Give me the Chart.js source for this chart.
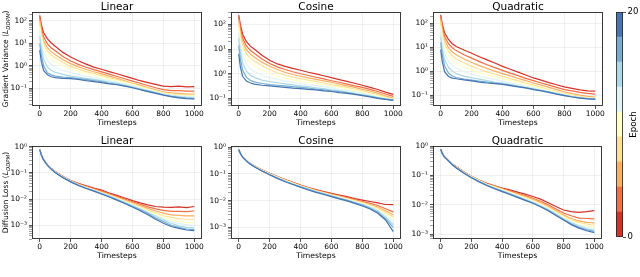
<!DOCTYPE html>
<html><head><meta charset="utf-8">
<script src="https://cdn.jsdelivr.net/npm/chart.js@4"></script>
<style>
html,body{margin:0;padding:0;background:#fff;}
body{width:640px;height:277px;overflow:hidden;position:relative;font-family:"DejaVu Sans",sans-serif;}
canvas{position:absolute;}
</style></head>
<body>
<canvas id="p0"></canvas><canvas id="p1"></canvas><canvas id="p2"></canvas>
<canvas id="p3"></canvas><canvas id="p4"></canvas><canvas id="p5"></canvas>
<canvas id="cbar"></canvas>
<script>
// ---------- data ----------
const timesteps = [0,10,25,50,75,100,150,200,250,300,350,400,450,500,550,600,650,700,750,800,850,900,950,1000];
const epochColors = ['#d73027','#f46d43','#fdae61','#fee090','#ffffbf','#e0f3f8','#abd9e9','#74add1','#4575b4'];
const epochBounds = [0,2.22,4.44,6.67,8.89,11.11,13.33,15.56,17.78,20];
const colorbarTicks = [0,20];
const schedules = ['Linear','Cosine','Quadratic'];
const xTicks = [0,200,400,600,800,1000];

const gradVarLinear = [
 [178,71,30,16,10.5,7.5,4.0,2.5,1.7,1.2,0.89,0.71,0.56,0.45,0.35,0.28,0.22,0.18,0.15,0.126,0.12,0.126,0.117,0.12],
 [141,50,20,9.5,6.3,4.7,2.6,1.66,1.17,0.87,0.68,0.54,0.43,0.34,0.27,0.21,0.17,0.135,0.107,0.089,0.079,0.08,0.076,0.076],
 [112,35,13,6.3,4.2,3.2,1.9,1.26,0.91,0.69,0.55,0.44,0.35,0.28,0.22,0.17,0.14,0.11,0.087,0.071,0.063,0.06,0.056,0.056],
 [79,25,9.5,4.5,3.0,2.3,1.41,0.95,0.72,0.56,0.46,0.37,0.3,0.25,0.2,0.16,0.126,0.1,0.079,0.063,0.056,0.054,0.05,0.05],
 [56,18,6.6,3.0,2.0,1.5,1.0,0.72,0.56,0.46,0.38,0.32,0.26,0.22,0.18,0.15,0.117,0.093,0.074,0.06,0.052,0.05,0.047,0.047],
 [35,11,4.0,1.78,1.15,0.89,0.63,0.5,0.42,0.35,0.3,0.26,0.22,0.19,0.16,0.13,0.107,0.087,0.071,0.058,0.05,0.047,0.044,0.043],
 [20,6.3,2.0,0.89,0.63,0.52,0.42,0.35,0.32,0.28,0.25,0.22,0.19,0.166,0.14,0.117,0.095,0.079,0.066,0.054,0.047,0.043,0.04,0.038],
 [10,3.2,1.0,0.5,0.4,0.35,0.32,0.3,0.27,0.25,0.22,0.2,0.17,0.15,0.13,0.11,0.091,0.076,0.063,0.051,0.044,0.04,0.037,0.035],
 [5.0,1.58,0.63,0.4,0.33,0.3,0.28,0.27,0.25,0.22,0.2,0.18,0.16,0.145,0.126,0.107,0.087,0.072,0.06,0.05,0.043,0.038,0.035,0.034]
];
const gradVarCosine = [
 [240,100,40,20,13.2,10,5.6,3.5,2.5,2.0,1.66,1.38,1.15,0.98,0.83,0.69,0.58,0.49,0.41,0.34,0.28,0.23,0.18,0.145],
 [200,71,28,13.2,8.9,6.8,4.0,2.6,1.9,1.48,1.2,1.0,0.85,0.72,0.62,0.52,0.45,0.38,0.32,0.28,0.23,0.19,0.15,0.12],
 [158,50,20,9.3,6.3,4.8,2.95,2.0,1.48,1.15,0.93,0.79,0.68,0.59,0.51,0.45,0.38,0.32,0.28,0.23,0.2,0.16,0.126,0.1],
 [112,35,13.5,6.3,4.3,3.3,2.1,1.45,1.1,0.87,0.72,0.63,0.55,0.48,0.42,0.36,0.32,0.28,0.24,0.2,0.17,0.14,0.112,0.093],
 [79,24,8.9,4.0,2.75,2.1,1.38,1.0,0.79,0.66,0.56,0.5,0.45,0.4,0.35,0.32,0.28,0.24,0.21,0.18,0.15,0.126,0.105,0.089],
 [50,15,5.4,2.4,1.58,1.26,0.87,0.69,0.59,0.5,0.45,0.4,0.36,0.33,0.3,0.26,0.23,0.21,0.19,0.16,0.135,0.115,0.1,0.087],
 [28,8.3,2.8,1.26,0.87,0.71,0.55,0.48,0.43,0.39,0.35,0.32,0.3,0.27,0.25,0.22,0.2,0.18,0.16,0.14,0.123,0.107,0.095,0.085],
 [14,4.2,1.4,0.71,0.54,0.47,0.4,0.36,0.34,0.32,0.3,0.28,0.26,0.24,0.22,0.2,0.19,0.17,0.15,0.135,0.12,0.105,0.093,0.085],
 [6.3,2.0,0.79,0.5,0.42,0.38,0.34,0.32,0.3,0.28,0.26,0.25,0.23,0.22,0.2,0.19,0.17,0.16,0.145,0.13,0.115,0.1,0.091,0.083]
];
const gradVarQuadratic = [
 [224,89,40,21,14,10.7,7.6,5.6,4.0,2.95,2.2,1.58,1.2,0.91,0.69,0.52,0.42,0.33,0.27,0.22,0.19,0.166,0.15,0.145],
 [190,71,28,14,9.5,7.2,4.8,3.5,2.5,1.86,1.41,1.07,0.83,0.65,0.5,0.4,0.32,0.26,0.21,0.17,0.15,0.13,0.117,0.11],
 [150,50,20,9.5,6.3,4.8,3.2,2.3,1.7,1.29,1.0,0.79,0.63,0.5,0.4,0.32,0.26,0.21,0.17,0.138,0.115,0.1,0.089,0.083],
 [112,35,13.8,6.6,4.4,3.3,2.2,1.58,1.2,0.93,0.74,0.6,0.49,0.4,0.32,0.26,0.21,0.17,0.14,0.117,0.1,0.089,0.079,0.076],
 [79,24,8.9,4.3,2.8,2.1,1.48,1.1,0.85,0.69,0.58,0.48,0.4,0.33,0.28,0.23,0.19,0.16,0.13,0.11,0.093,0.083,0.076,0.072],
 [50,15,5.5,2.6,1.74,1.35,0.95,0.74,0.62,0.52,0.45,0.38,0.32,0.28,0.23,0.2,0.17,0.145,0.123,0.105,0.089,0.079,0.074,0.071],
 [28,8.3,3.0,1.45,1.0,0.79,0.62,0.52,0.46,0.4,0.35,0.32,0.28,0.24,0.21,0.18,0.158,0.135,0.115,0.1,0.087,0.078,0.072,0.069],
 [16,4.8,1.66,0.83,0.63,0.54,0.47,0.42,0.38,0.35,0.32,0.29,0.26,0.23,0.2,0.18,0.155,0.132,0.112,0.098,0.085,0.076,0.071,0.068],
 [7.9,2.5,0.95,0.6,0.51,0.48,0.43,0.39,0.35,0.32,0.3,0.28,0.25,0.22,0.2,0.17,0.15,0.13,0.11,0.095,0.083,0.074,0.069,0.066]
];
const lossLinear = [
 [0.76,0.5,0.32,0.2,0.145,0.112,0.072,0.051,0.04,0.032,0.026,0.022,0.017,0.0138,0.011,0.0087,0.0071,0.006,0.0052,0.0049,0.0048,0.005,0.0047,0.0052],
 [0.76,0.5,0.32,0.2,0.145,0.11,0.071,0.05,0.038,0.03,0.0245,0.02,0.0158,0.0126,0.01,0.0079,0.0063,0.005,0.0042,0.0037,0.0034,0.0034,0.0033,0.0035],
 [0.76,0.5,0.32,0.2,0.141,0.11,0.069,0.049,0.037,0.029,0.0234,0.0186,0.0148,0.0117,0.0091,0.0072,0.0056,0.0044,0.0035,0.0029,0.0025,0.0024,0.0023,0.0023],
 [0.76,0.5,0.32,0.2,0.141,0.107,0.069,0.048,0.036,0.028,0.0224,0.0178,0.0141,0.011,0.0085,0.0066,0.005,0.0038,0.003,0.0023,0.002,0.0018,0.0017,0.0017],
 [0.76,0.5,0.32,0.2,0.141,0.107,0.068,0.047,0.035,0.0275,0.0219,0.0174,0.0135,0.0105,0.0081,0.0062,0.0047,0.0035,0.0026,0.002,0.0016,0.0014,0.00126,0.00126],
 [0.76,0.5,0.32,0.195,0.138,0.105,0.068,0.047,0.0347,0.0269,0.0214,0.017,0.0132,0.0102,0.0078,0.0059,0.0044,0.0032,0.0024,0.0018,0.0014,0.00115,0.00105,0.001],
 [0.76,0.49,0.31,0.195,0.138,0.105,0.066,0.046,0.034,0.0263,0.0209,0.0166,0.0129,0.0098,0.0074,0.0056,0.0042,0.003,0.0022,0.0016,0.0012,0.00095,0.00083,0.00079],
 [0.76,0.49,0.31,0.195,0.138,0.102,0.066,0.046,0.034,0.0257,0.0204,0.0158,0.0123,0.0093,0.0071,0.0052,0.0039,0.0028,0.0019,0.0014,0.001,0.00083,0.00072,0.00068],
 [0.76,0.49,0.31,0.19,0.135,0.102,0.065,0.045,0.033,0.0251,0.02,0.0155,0.012,0.0091,0.0068,0.005,0.0036,0.0025,0.0017,0.0012,0.0009,0.00076,0.00066,0.00063]
];
const lossCosine = [
 [0.81,0.6,0.43,0.32,0.245,0.2,0.141,0.105,0.079,0.062,0.048,0.038,0.031,0.0257,0.0219,0.0186,0.0162,0.0141,0.012,0.0105,0.0093,0.0083,0.0072,0.0071],
 [0.81,0.6,0.43,0.32,0.245,0.2,0.138,0.102,0.078,0.06,0.047,0.037,0.03,0.0251,0.0209,0.0178,0.0151,0.0129,0.011,0.0093,0.0079,0.0066,0.005,0.0038],
 [0.81,0.6,0.43,0.32,0.245,0.2,0.138,0.1,0.076,0.059,0.046,0.036,0.0295,0.024,0.02,0.017,0.0145,0.0123,0.0105,0.0087,0.0072,0.0058,0.0042,0.003],
 [0.81,0.6,0.43,0.32,0.24,0.195,0.135,0.1,0.076,0.058,0.045,0.035,0.0288,0.0234,0.0195,0.0166,0.0141,0.012,0.01,0.0083,0.0068,0.0052,0.0036,0.0025],
 [0.81,0.6,0.43,0.31,0.24,0.195,0.135,0.098,0.074,0.056,0.044,0.035,0.0282,0.0229,0.019,0.0158,0.0135,0.0115,0.0095,0.0079,0.0063,0.0048,0.0032,0.002],
 [0.81,0.6,0.43,0.31,0.24,0.195,0.132,0.098,0.072,0.055,0.043,0.034,0.0275,0.0224,0.0186,0.0155,0.0132,0.011,0.0091,0.0074,0.0059,0.0044,0.0028,0.0016],
 [0.81,0.59,0.42,0.31,0.234,0.19,0.132,0.095,0.071,0.054,0.042,0.033,0.0269,0.0219,0.0182,0.0151,0.0126,0.0105,0.0087,0.0071,0.0055,0.004,0.0024,0.00126],
 [0.81,0.59,0.42,0.3,0.234,0.19,0.129,0.093,0.069,0.052,0.041,0.032,0.0263,0.0214,0.0178,0.0148,0.0123,0.0102,0.0083,0.0068,0.0052,0.0037,0.0021,0.001],
 [0.81,0.59,0.42,0.3,0.229,0.186,0.129,0.093,0.068,0.051,0.04,0.032,0.0251,0.0204,0.017,0.0141,0.0117,0.0098,0.0079,0.0063,0.0049,0.0034,0.0019,0.0007]
];
const lossQuadratic = [
 [0.78,0.58,0.43,0.33,0.25,0.2,0.132,0.093,0.069,0.054,0.044,0.037,0.032,0.0269,0.0229,0.019,0.0155,0.0117,0.0087,0.0066,0.0058,0.0055,0.0058,0.0063],
 [0.78,0.58,0.43,0.33,0.25,0.195,0.129,0.091,0.068,0.052,0.043,0.035,0.0295,0.0245,0.0204,0.0166,0.0132,0.01,0.0072,0.0052,0.0042,0.0035,0.0034,0.0033],
 [0.78,0.58,0.43,0.32,0.245,0.195,0.129,0.091,0.068,0.051,0.042,0.035,0.0282,0.0234,0.0191,0.0155,0.012,0.0089,0.0063,0.0045,0.0034,0.0028,0.0025,0.0024],
 [0.78,0.58,0.43,0.32,0.245,0.19,0.126,0.089,0.066,0.05,0.041,0.033,0.0269,0.0219,0.0178,0.0141,0.011,0.0081,0.0058,0.0041,0.0031,0.0025,0.0022,0.002],
 [0.78,0.58,0.42,0.32,0.24,0.19,0.126,0.089,0.065,0.049,0.039,0.032,0.0257,0.0209,0.0166,0.0132,0.0102,0.0076,0.0054,0.0038,0.0028,0.0022,0.0019,0.0017],
 [0.78,0.58,0.42,0.32,0.24,0.186,0.123,0.087,0.063,0.048,0.038,0.031,0.0251,0.02,0.0158,0.0126,0.0098,0.0072,0.0051,0.0035,0.0026,0.002,0.0017,0.0015],
 [0.78,0.56,0.42,0.32,0.234,0.186,0.123,0.085,0.062,0.047,0.037,0.03,0.024,0.019,0.0151,0.012,0.0091,0.0068,0.0048,0.0033,0.0024,0.0019,0.0015,0.00135],
 [0.78,0.56,0.42,0.31,0.234,0.182,0.12,0.085,0.062,0.046,0.036,0.029,0.0229,0.0182,0.0145,0.0115,0.0087,0.0065,0.0045,0.0031,0.0022,0.0017,0.0014,0.00123],
 [0.78,0.56,0.42,0.31,0.229,0.182,0.12,0.083,0.06,0.045,0.035,0.028,0.0224,0.0178,0.0141,0.0112,0.0085,0.0062,0.0043,0.003,0.0021,0.0016,0.0013,0.00112]
];

// ---------- layout ----------
const panels = [
 {id:'p0', series:gradVarLinear,    title:schedules[0], L:32,  R:202, T:12,  B:106, ymin:0.0165, ymax:250, ytitle:'Gradient Variance ('},
 {id:'p1', series:gradVarCosine,    title:schedules[1], L:231, R:401, T:12,  B:106, ymin:0.049,  ymax:320},
 {id:'p2', series:gradVarQuadratic, title:schedules[2], L:433, R:603, T:12,  B:106, ymin:0.035,  ymax:295},
 {id:'p3', series:lossLinear,       title:schedules[0], L:32,  R:202, T:146, B:239, ymin:0.0003, ymax:1.05, ytitle:'Diffusion Loss ('},
 {id:'p4', series:lossCosine,       title:schedules[1], L:231, R:401, T:146, B:239, ymin:0.00037,ymax:1.1},
 {id:'p5', series:lossQuadratic,    title:schedules[2], L:433, R:602, T:146, B:239, ymin:0.00068,ymax:1.0}
];
const YW = 32, PT = 12, PR = 4, XH = 22;
const TICKFONT = {family:'DejaVu Sans', size:7.5};
const SUP = {'-':'\u207B','0':'\u2070','1':'\u00B9','2':'\u00B2','3':'\u00B3','4':'\u2074','5':'\u2075'};
const isPow10 = v => Math.abs(Math.log10(v) - Math.round(Math.log10(v))) < 1e-6;
const powLabel = v => '10' + String(Math.round(Math.log10(v))).split('').map(c => SUP[c]).join('');

function logTicks(scale){
  const out = [];
  const lo = Math.floor(Math.log10(scale.min)), hi = Math.ceil(Math.log10(scale.max));
  for (let n = lo; n <= hi; n++) for (let k = 1; k < 10; k++) {
    const v = k * Math.pow(10, n);
    if (v >= scale.min && v <= scale.max * 1.0001) out.push({value: v});
  }
  scale.ticks = out;
}

const deco = (p) => ({
  id: 'deco',
  afterDraw(chart){
    const {ctx, chartArea: a} = chart;
    ctx.save();
    ctx.strokeStyle = '#262626'; ctx.lineWidth = 0.9;
    ctx.strokeRect(Math.round(a.left)+0.5, Math.round(a.top)+0.5, Math.round(a.right-a.left)-1, Math.round(a.bottom-a.top)-1);
    ctx.fillStyle = '#000'; ctx.textAlign = 'center'; ctx.textBaseline = 'alphabetic';
    ctx.font = '10.5px "DejaVu Sans"';
    ctx.fillText(p.title, (a.left + a.right)/2, a.top - 2.5);
    if (p.ytitle){
      const f1 = '7.6px "DejaVu Sans"', f2 = 'italic 7.6px "DejaVu Sans"', f3 = 'italic 5.4px "DejaVu Sans"';
      ctx.font = f1; const w1 = ctx.measureText(p.ytitle).width, w4 = ctx.measureText(')').width;
      ctx.font = f2; const w2 = ctx.measureText('L').width;
      ctx.font = f3; const w3 = ctx.measureText('DDPM').width;
      const tot = w1 + w2 + w3 + w4;
      ctx.translate(8, (a.top + a.bottom)/2);
      ctx.rotate(-Math.PI/2);
      ctx.textAlign = 'left';
      let x = -tot/2;
      ctx.font = f1; ctx.fillText(p.ytitle, x, 0); x += w1;
      ctx.font = f2; ctx.fillText('L', x, 0); x += w2;
      ctx.font = f3; ctx.fillText('DDPM', x, 1.8); x += w3;
      ctx.font = f1; ctx.fillText(')', x, 0);
    }
    ctx.restore();
  }
});

panels.forEach(p => {
  const cv = document.getElementById(p.id);
  const w = p.R - p.L + YW + PR, h = p.B - p.T + PT + XH;
  cv.width = w; cv.height = h;
  cv.style.left = (p.L - YW) + 'px'; cv.style.top = (p.T - PT) + 'px';
  cv.style.width = w + 'px'; cv.style.height = h + 'px';
  new Chart(cv, {
    type: 'line',
    data: {
      datasets: p.series.map((s, i) => ({
        data: timesteps.map((t, j) => ({x: t, y: s[j]})),
        borderColor: epochColors[i], borderWidth: 1.2, pointRadius: 0, tension: 0,
        fill: false, order: p.series.length - 1 - i
      }))
    },
    options: {
      responsive: false, animation: false, events: [], devicePixelRatio: 1,
      layout: {padding: {left: 0, top: PT, right: PR, bottom: 0}},
      plugins: {legend: {display: false}, tooltip: {enabled: false}, title: {display: false}},
      scales: {
        x: {
          type: 'linear', min: -50, max: 1050, bounds: 'data',
          afterBuildTicks: s => { s.ticks = xTicks.map(v => ({value: v})); },
          afterFit: s => { s.height = XH; },
          grid: {color: 'rgba(0,0,0,0.09)', lineWidth: 0.7, tickLength: 3, tickColor: '#262626', tickWidth: 0.8},
          border: {display: false},
          ticks: {font: TICKFONT, color: '#000', padding: 1, maxRotation: 0, autoSkip: false,
            callback: v => String(v)},
          title: {display: true, text: 'Timesteps', font: {family: 'DejaVu Sans', size: 7.7, lineHeight: 1.2}, color: '#000', padding: {top: 0, bottom: 0}}
        },
        y: {
          type: 'logarithmic', min: p.ymin, max: p.ymax, bounds: 'data',
          afterBuildTicks: logTicks,
          afterFit: s => { s.width = YW; },
          grid: {
            color: c => (c.tick && isPow10(c.tick.value)) ? 'rgba(0,0,0,0.09)' : 'rgba(0,0,0,0)',
            tickColor: c => (c.tick && isPow10(c.tick.value)) ? '#262626' : '#8a8a8a',
            lineWidth: 0.7, tickLength: 3, tickWidth: 0.8
          },
          border: {display: false},
          ticks: {font: TICKFONT, color: '#000', padding: 2, autoSkip: false,
            callback: v => isPow10(v) ? powLabel(v) : ''}
        }
      }
    },
    plugins: [deco(p)]
  });
});

// ---------- colorbar ----------
(function(){
  const cv = document.getElementById('cbar');
  const L = 616, R = 623, T = 12, B = 237;
  const left = 610, w = 30, top = 0, h = 250;
  cv.width = w; cv.height = h;
  cv.style.left = left + 'px'; cv.style.top = top + 'px';
  cv.style.width = w + 'px'; cv.style.height = h + 'px';
  new Chart(cv, {
    type: 'bar',
    data: {
      labels: [''],
      datasets: epochColors.map((c, i) => ({
        data: [[epochBounds[i], epochBounds[i+1]]], backgroundColor: c, borderWidth: 0,
        barPercentage: 1, categoryPercentage: 1, grouped: false
      }))
    },
    options: {
      responsive: false, animation: false, events: [], devicePixelRatio: 1,
      layout: {padding: {left: L - left, top: T - top, right: 0, bottom: top + h - B}},
      plugins: {legend: {display: false}, tooltip: {enabled: false}},
      scales: {
        x: {display: false},
        y: {
          position: 'right', min: 0, max: 20, bounds: 'data',
          afterBuildTicks: s => { s.ticks = colorbarTicks.map(v => ({value: v})); },
          afterFit: s => { s.width = w - (L - left) - (R - L); },
          grid: {drawOnChartArea: false, tickLength: 3, tickColor: '#262626', tickWidth: 0.8},
          border: {display: false},
          ticks: {font: {family: 'DejaVu Sans', size: 8.5}, color: '#000', padding: 1.5, autoSkip: false}
        }
      }
    },
    plugins: [{
      id: 'cbdeco',
      afterDraw(chart){
        const {ctx, chartArea: a} = chart;
        ctx.save();
        ctx.strokeStyle = '#262626'; ctx.lineWidth = 0.8;
        ctx.strokeRect(a.left + 0.4, a.top + 0.4, a.right - a.left - 0.8, a.bottom - a.top - 0.8);
        ctx.fillStyle = '#000'; ctx.font = '8.7px "DejaVu Sans"';
        ctx.textAlign = 'center'; ctx.textBaseline = 'middle';
        ctx.translate(24, (a.top + a.bottom)/2);
        ctx.rotate(-Math.PI/2);
        ctx.fillText('Epoch', 0, 0);
        ctx.restore();
      }
    }]
  });
})();
</script>
</body></html>
